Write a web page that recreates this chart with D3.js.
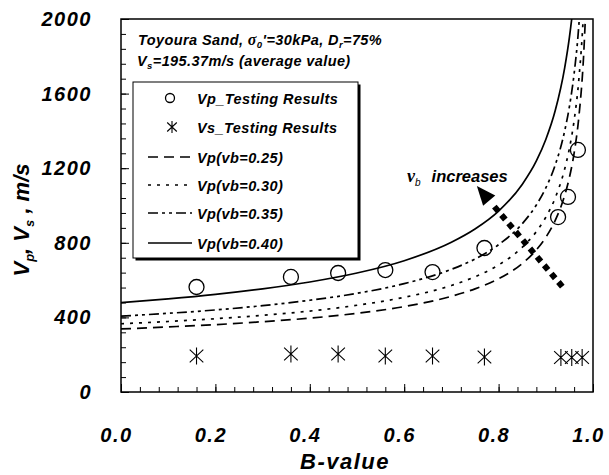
<!DOCTYPE html>
<html>
<head>
<meta charset="utf-8">
<script src="https://cdn.jsdelivr.net/npm/d3@7"></script>
<style>
body { margin: 0; background: #fff; }
svg { font-family: "Liberation Sans", Arial, sans-serif; font-weight: bold; font-style: italic; }
</style>
</head>
<body>
<svg id="chart" width="609" height="475"></svg>
<script>
// test results
var bVp = [0.16, 0.36, 0.46, 0.56, 0.66, 0.77, 0.926, 0.947, 0.968];
var vpTest = [563, 617, 638, 654, 643, 772, 938, 1046, 1298];
var bVs = [0.16, 0.36, 0.46, 0.56, 0.66, 0.77, 0.932, 0.955, 0.977];
var vsTest = [193, 204, 204, 193, 193, 188, 185, 185, 185];

// theoretical curves, read along B
var bCurve = [0, 0.1, 0.2, 0.3, 0.4, 0.5, 0.6, 0.7, 0.75, 0.8, 0.85, 0.88, 0.9, 0.92, 0.94, 0.95, 0.96, 0.97, 0.98, 0.985];
var vp025 = [338, 349, 361, 377, 396, 422, 458, 513, 553, 607, 689, 762, 829, 920, 1054, 1150, 1281, 1474, 1798, 2071];
var vp030 = [366, 378, 393, 411, 434, 465, 508, 571, 618, 681, 776, 860, 937, 1041, 1196, 1306, 1456, 1676, 2046, 2360];
var vp035 = [407, 422, 440, 463, 492, 529, 581, 658, 713, 790, 902, 1003, 1094, 1217, 1400, 1530, 1707, 1967, 2403, 2772];
var vp040 = [479, 499, 523, 553, 590, 638, 704, 803, 874, 970, 1113, 1239, 1354, 1509, 1738, 1901, 2122, 2447, 2993, 3453];

var xTicks = [0, 0.2, 0.4, 0.6, 0.8, 1.0];
var yTicks = [0, 400, 800, 1200, 1600, 2000];

var svg = d3.select("#chart");
var plotL = 121, plotR = 593, plotT = 19, plotB = 392;

var x = d3.scaleLinear().domain([0, 1]).range([plotL, plotR]);
var y = d3.scaleLinear().domain([0, 2000]).range([plotB, plotT]);

svg.append("defs").append("clipPath").attr("id", "plotclip")
    .append("rect").attr("x", plotL).attr("y", plotT)
    .attr("width", plotR - plotL).attr("height", plotB - plotT);

// minor ticks (inside)
var xMinor = d3.range(0, 1.0001, 0.04);
var yMinor = d3.range(0, 2001, 80);

svg.append("g").attr("transform", "translate(0," + plotB + ")")
    .call(d3.axisBottom(x).tickValues(xMinor).tickSize(-5).tickFormat(""))
    .call(g => g.select(".domain").remove());
svg.append("g").attr("transform", "translate(" + plotL + ",0)")
    .call(d3.axisLeft(y).tickValues(yMinor).tickSize(-5).tickFormat(""))
    .call(g => g.select(".domain").remove());

var xAxis = svg.append("g").attr("transform", "translate(0," + plotB + ")")
    .call(d3.axisBottom(x).tickValues(xTicks).tickSize(-8).tickPadding(36).tickFormat(d3.format(".1f")));
xAxis.select(".domain").remove();
xAxis.selectAll("text").attr("font-size", 20).attr("font-family", null)
    .attr("letter-spacing", 1.5).attr("dx", -5).attr("fill", "#000");

var yAxis = svg.append("g").attr("transform", "translate(" + plotL + ",0)")
    .call(d3.axisLeft(y).tickValues(yTicks).tickSize(-8).tickPadding(29).tickFormat(d3.format("d")));
yAxis.select(".domain").remove();
yAxis.selectAll("text").attr("font-size", 20).attr("font-family", null)
    .attr("letter-spacing", 1.5).attr("fill", "#000");

svg.selectAll(".tick line").attr("stroke", "#000").attr("stroke-width", 1);

// frame
svg.append("rect").attr("x", plotL).attr("y", plotT)
    .attr("width", plotR - plotL).attr("height", plotB - plotT)
    .attr("fill", "none").attr("stroke", "#000").attr("stroke-width", 1.5);

// curves
var curves = [
    { name: "Vp(vb=0.25)", values: vp025, dash: "10,6" },
    { name: "Vp(vb=0.30)", values: vp030, dash: "3,6" },
    { name: "Vp(vb=0.35)", values: vp035, dash: "10,4,3,4,3,4" },
    { name: "Vp(vb=0.40)", values: vp040, dash: null }
];

var line = d3.line()
    .x(function(d) { return x(d[0]); })
    .y(function(d) { return y(d[1]); })
    .curve(d3.curveMonotoneX);

var plot = svg.append("g").attr("clip-path", "url(#plotclip)");

plot.selectAll("path.curve")
    .data(curves)
    .enter().append("path")
    .attr("class", "curve")
    .attr("d", function(c) { return line(bCurve.map(function(b, i) { return [b, c.values[i]]; })); })
    .attr("fill", "none")
    .attr("stroke", "#000")
    .attr("stroke-width", 1.7)
    .attr("stroke-dasharray", function(c) { return c.dash; });

// star marker: vertical + two diagonals
function starPath(cx, cy, r) {
    var p = d3.path();
    p.moveTo(cx, cy - r); p.lineTo(cx, cy + r);
    p.moveTo(cx - r * 0.8, cy - r * 0.75); p.lineTo(cx + r * 0.8, cy + r * 0.75);
    p.moveTo(cx - r * 0.8, cy + r * 0.75); p.lineTo(cx + r * 0.8, cy - r * 0.75);
    return p.toString();
}

plot.selectAll("circle.vp")
    .data(bVp.map(function(b, i) { return [b, vpTest[i]]; }))
    .enter().append("circle")
    .attr("class", "vp")
    .attr("cx", function(d) { return x(d[0]); })
    .attr("cy", function(d) { return y(d[1]); })
    .attr("r", 7.5)
    .attr("fill", "none").attr("stroke", "#000").attr("stroke-width", 1.3);

plot.selectAll("path.vs")
    .data(bVs.map(function(b, i) { return [b, vsTest[i]]; }))
    .enter().append("path")
    .attr("class", "vs")
    .attr("d", function(d) { return starPath(x(d[0]), y(d[1]), 8.5); })
    .attr("fill", "none").attr("stroke", "#000").attr("stroke-width", 1.1);

// annotation arrow (v_b increases)
var arrowFrom = [0.935, 565], arrowTo = [0.788, 1003], arrowTip = [0.754, 1104];
svg.append("line")
    .attr("x1", x(arrowFrom[0])).attr("y1", y(arrowFrom[1]))
    .attr("x2", x(arrowTo[0])).attr("y2", y(arrowTo[1]))
    .attr("stroke", "#000").attr("stroke-width", 6).attr("stroke-dasharray", "6,5");
(function() {
    var tx = x(arrowTip[0]), ty = y(arrowTip[1]);
    var dx = tx - x(arrowFrom[0]), dy = ty - y(arrowFrom[1]);
    var len = Math.sqrt(dx * dx + dy * dy);
    var ux = dx / len, uy = dy / len;
    var bx = tx - ux * 19, by = ty - uy * 19;
    var pts = [[tx, ty], [bx - uy * 8, by + ux * 8], [bx + uy * 8, by - ux * 8]];
    svg.append("path").attr("d", "M" + pts.join("L") + "Z").attr("fill", "#000");
})();

var ann = svg.append("text").attr("x", 407).attr("y", 182).attr("font-size", 16.5);
ann.append("tspan").attr("font-family", "Liberation Serif, serif").attr("font-size", 18).text("v");
ann.append("tspan").attr("font-size", 10).attr("dy", 4).attr("font-weight", "normal").text("b");
ann.append("tspan").attr("dy", -4).attr("dx", 11).text("increases");

// header texts
var t1 = svg.append("text").attr("x", 138).attr("y", 45).attr("font-size", 14.5).attr("letter-spacing", 0.4);
t1.append("tspan").text("Toyoura Sand, ");
t1.append("tspan").attr("font-family", "Liberation Serif, serif").attr("font-size", 16).text("σ");
t1.append("tspan").attr("font-size", 9.5).attr("dy", 3).text("0");
t1.append("tspan").attr("dy", -3).text("'=30kPa, D");
t1.append("tspan").attr("font-size", 9.5).attr("dy", 3).text("r");
t1.append("tspan").attr("dy", -3).text("=75%");

var t2 = svg.append("text").attr("x", 137).attr("y", 66).attr("font-size", 14.5).attr("letter-spacing", 0.4);
t2.append("tspan").text("V");
t2.append("tspan").attr("font-size", 9.5).attr("dy", 3).text("s");
t2.append("tspan").attr("dy", -3).text("=195.37m/s (average value)");

// legend
var legX = 133, legY = 82, legW = 225, legH = 176;
svg.append("rect").attr("x", legX + 2.5).attr("y", legY + 2.5)
    .attr("width", legW).attr("height", legH).attr("fill", "#000");
svg.append("rect").attr("x", legX).attr("y", legY)
    .attr("width", legW).attr("height", legH)
    .attr("fill", "#fff").attr("stroke", "#000").attr("stroke-width", 1);

var legendNames = ["Vp_Testing Results", "Vs_Testing Results"].concat(curves.map(function(c) { return c.name; }));
var legRowY = [98, 127, 157, 185, 213, 243];

var leg = svg.selectAll("g.leg")
    .data(legendNames)
    .enter().append("g")
    .attr("class", "leg")
    .attr("transform", function(d, i) { return "translate(0," + legRowY[i] + ")"; });

leg.append("text").attr("x", 197).attr("y", 5.5).attr("font-size", 14.5).attr("letter-spacing", 0.4)
    .text(function(d) { return d; });

leg.each(function(d, i) {
    var g = d3.select(this);
    if (i == 0) {
        g.append("circle").attr("cx", 170).attr("cy", 0).attr("r", 4.5)
            .attr("fill", "none").attr("stroke", "#000").attr("stroke-width", 1.3);
    } else if (i == 1) {
        g.append("path").attr("d", starPath(172, 0, 6)).attr("fill", "none")
            .attr("stroke", "#000").attr("stroke-width", 1.1);
    } else {
        g.append("line").attr("x1", 148).attr("x2", 192).attr("y1", 0).attr("y2", 0)
            .attr("stroke", "#000").attr("stroke-width", 1.7)
            .attr("stroke-dasharray", curves[i - 2].dash);
    }
});

// axis titles
svg.append("text").attr("x", 345).attr("y", 469).attr("text-anchor", "middle")
    .attr("font-size", 22).attr("letter-spacing", 1.5).text("B-value");

var yt = svg.append("text").attr("transform", "translate(29,220) rotate(-90)")
    .attr("text-anchor", "middle").attr("font-size", 22);
yt.append("tspan").text("V");
yt.append("tspan").attr("font-size", 13).attr("dy", 5).text("p");
yt.append("tspan").attr("dy", -5).text(", V");
yt.append("tspan").attr("font-size", 13).attr("dy", 5).text("s");
yt.append("tspan").attr("dy", -5).text(" , m/s");
</script>
</body>
</html>
